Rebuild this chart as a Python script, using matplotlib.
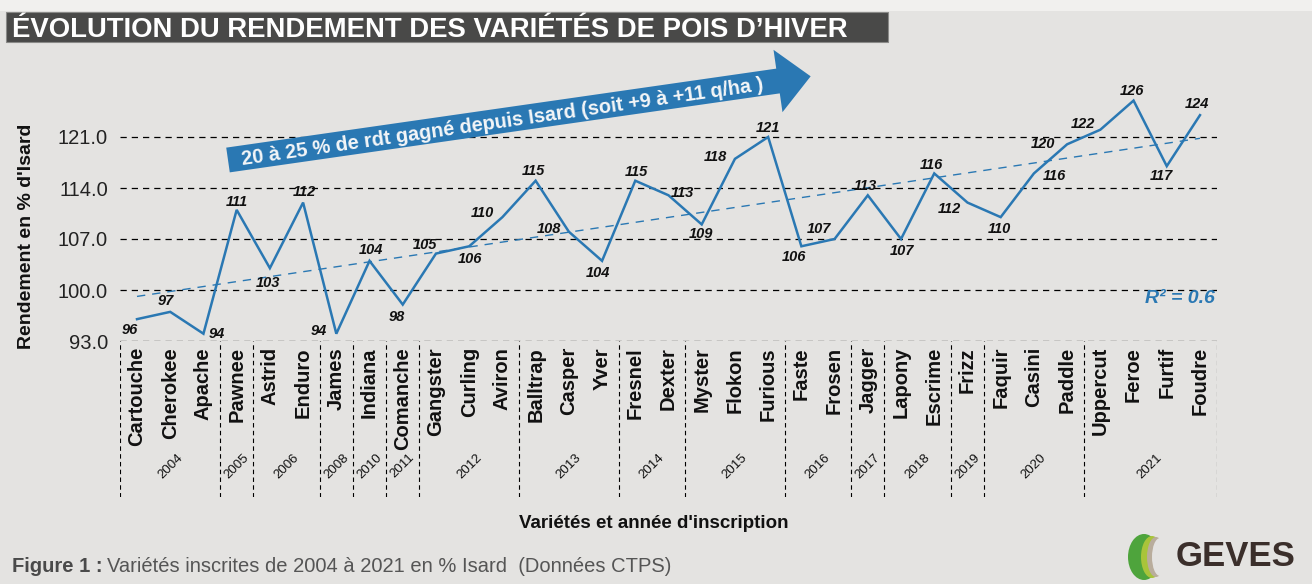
import numpy as np
import matplotlib.pyplot as plt
from matplotlib.patches import Polygon, Rectangle, Ellipse

plt.rcParams['font.family'] = ['Liberation Sans', 'DejaVu Sans']

varietes = ["Cartouche", "Cherokee", "Apache", "Pawnee", "Astrid", "Enduro", "James",
            "Indiana", "Comanche", "Gangster", "Curling", "Aviron", "Balltrap", "Casper",
            "Yver", "Fresnel", "Dexter", "Myster", "Flokon", "Furious", "Faste", "Frosen",
            "Jagger", "Lapony", "Escrime", "Frizz", "Faquir", "Casini", "Paddle",
            "Uppercut", "Feroe", "Furtif", "Foudre"]
rendement = [96, 97, 94, 111, 103, 112, 94, 104, 98, 105, 106, 110, 115, 108, 104,
             115, 113, 109, 118, 121, 106, 107, 113, 107, 116, 112, 110, 116, 120,
             122, 126, 117, 124]
annees = ["2004", "2005", "2006", "2008", "2010", "2011", "2012", "2013", "2014",
          "2015", "2016", "2017", "2018", "2019", "2020", "2021"]
nb_par_annee = [3, 1, 2, 1, 1, 1, 3, 3, 2, 3, 2, 1, 2, 1, 3, 4]
yticks = [93, 100, 107, 114, 121]

# label offsets in pixels (dx, dy), dy > 0 means below the point
decalages = [(-7, 11), (-4, -11), (13, 0), (0, -8), (-2, 15), (1, -11), (-18, -3),
             (1, -11), (-6, 12), (-11, -9), (1, 13), (-20, -4), (-2, -10), (-20, -3),
             (-4, 12), (1, -9), (14, -2), (-1, 10), (-20, -2), (0, -9), (-7, 11),
             (-16, -10), (-2, -9), (1, 12), (-3, -8), (-18, 6), (-1, 12), (20, 3),
             (-24, 0), (-17, -6), (-2, -10), (-5, 10), (-3, -11)]

bleu = '#2a78b3'
W, H = 1312, 584


def fx(x):
    return x / W


def fy(y):
    return 1 - y / H


fig = plt.figure(figsize=(W / 100, H / 100), dpi=100, facecolor='#e4e3e1')

# light strip on top and title box
fig.patches.append(Rectangle((0, fy(11)), 1, 11 / H, transform=fig.transFigure,
                             facecolor='#f1f0ee', edgecolor='none'))
fig.patches.append(Rectangle((fx(6), fy(42)), fx(882), 30 / H, transform=fig.transFigure,
                             facecolor='#494948', edgecolor='#8a8a88', lw=0.8))
fig.text(fx(12), fy(37), "ÉVOLUTION DU RENDEMENT DES VARIÉTÉS DE POIS D’HIVER",
         color='white', fontsize=19.8, fontweight='bold', ha='left', va='baseline')

# main axes
left, right = 120.4, 1216.6
ax = fig.add_axes([fx(left), fy(341), fx(right - left), (341 - 60) / H])
ax.set_facecolor('none')
x = np.arange(len(varietes))
ax.set_xlim(-0.5, len(varietes) - 0.5)
ax.set_ylim(93, 121 + (137 - 60) / (51 / 7))

for t in yticks:
    ax.axhline(t, color='black', lw=0.9, ls=(0, (5, 4)), zorder=1)

pente, orig = np.polyfit(x, rendement, 1)
ax.plot(x, pente * x + orig, color=bleu, lw=1.0, ls=(0, (6, 5)), zorder=2)
ax.plot(x, rendement, color=bleu, lw=1.8, zorder=3, solid_joinstyle='miter')

for i, v in enumerate(rendement):
    dx, dy = decalages[i]
    ax.annotate(str(v), (i, v), xytext=(dx * 0.72, -dy * 0.72), textcoords='offset points',
                ha='center', va='center', fontsize=10.5, fontweight='bold', fontstyle='italic',
                color='#111111', zorder=4)

ax.set_yticks(yticks)
ax.set_yticklabels([f"{t:.1f}" for t in yticks], fontsize=14.5, color='#222222')
ax.set_xticks([])
ax.tick_params(axis='y', length=0, pad=9)
for s in ax.spines.values():
    s.set_visible(False)

ax.text(len(varietes) - 0.55, 98.8, "R² = 0.6", color=bleu, fontsize=14, fontweight='bold',
        fontstyle='italic', ha='right', va='center')

# table of varieties / years
ax_t = fig.add_axes([fx(left), fy(497), fx(right - left), (497 - 341) / H])
ax_t.set_facecolor('none')
ax_t.set_xlim(-0.5, len(varietes) - 0.5)
ax_t.set_ylim(0, 1)
ax_t.axis('off')
bornes = np.concatenate([[0], np.cumsum(nb_par_annee)]) - 0.5
for b in bornes:
    ax_t.plot([b, b], [0, 1], color='black', lw=0.8, ls=(0, (4, 3)))
for i, nom in enumerate(varietes):
    ax_t.text(i, 1 - 6 / 156, nom, rotation=90, ha='center', va='top', fontsize=14.5,
              fontweight='bold', color='#111111')
for k, an in enumerate(annees):
    centre = (bornes[k] + bornes[k + 1]) / 2
    ax_t.text(centre, 1 - 125 / 156, an, rotation=45, ha='center', va='center',
              fontsize=9.5, color='#111111')

# axis labels
fig.text(fx(27), fy(236), "Rendement en % d'Isard", rotation=90, ha='center', va='center',
         fontsize=14, fontweight='bold', color='#111111')
fig.text(fx(654), fy(524), "Variétés et année d'inscription", ha='center', va='center',
         fontsize=13.5, fontweight='bold', color='#111111')

# arrow
queue = np.array([228.0, 160.0])
base = np.array([778.0, 81.0])
u = (base - queue) / np.linalg.norm(base - queue)
n = np.array([-u[1], u[0]])
pointe = base + u * 33
demi, demi_tete = 12.5, 31.5
pts = [queue + n * demi, base + n * demi, base + n * demi_tete, pointe,
       base - n * demi_tete, base - n * demi, queue - n * demi]
fig.patches.append(Polygon([(fx(p[0]), fy(p[1])) for p in pts], closed=True,
                           transform=fig.transFigure, facecolor=bleu, edgecolor='none'))
angle = np.degrees(np.arctan2(-u[1], u[0]))
centre_txt = queue + u * 277 + n * 1.5
fig.text(fx(centre_txt[0]), fy(centre_txt[1]), "20 à 25 % de rdt gagné depuis Isard (soit +9 à +11 q/ha )",
         rotation=angle, rotation_mode='anchor', ha='center', va='center', color='#f4f6f8',
         fontsize=14.3, fontweight='bold')

# caption
fig.text(fx(12), fy(567), "Figure 1 :", ha='left', va='center', fontsize=14.5,
         fontweight='bold', color='#4a4a4a')
fig.text(fx(107), fy(567), "Variétés inscrites de 2004 à 2021 en % Isard  (Données CTPS)",
         ha='left', va='center', fontsize=14.5, color='#555555')

# logo
fig.patches.append(Ellipse((fx(1144), fy(557)), 32 / W, 46 / H, transform=fig.transFigure,
                           facecolor='#4ea43c', edgecolor='none'))
fig.patches.append(Ellipse((fx(1152), fy(557)), 22 / W, 42 / H, transform=fig.transFigure,
                           facecolor='#a9c43a', edgecolor='none'))
fig.patches.append(Ellipse((fx(1156), fy(557)), 18 / W, 40 / H, transform=fig.transFigure,
                           facecolor='#b9ad9c', edgecolor='none'))
fig.patches.append(Ellipse((fx(1160), fy(557)), 16 / W, 38 / H, transform=fig.transFigure,
                           facecolor='#e4e3e1', edgecolor='none'))
fig.text(fx(1176), fy(557), "GEVES", ha='left', va='center', fontsize=25, color='#3b2f2b',
         fontweight='bold')

fig.savefig("out.png", dpi=100, facecolor=fig.get_facecolor())
